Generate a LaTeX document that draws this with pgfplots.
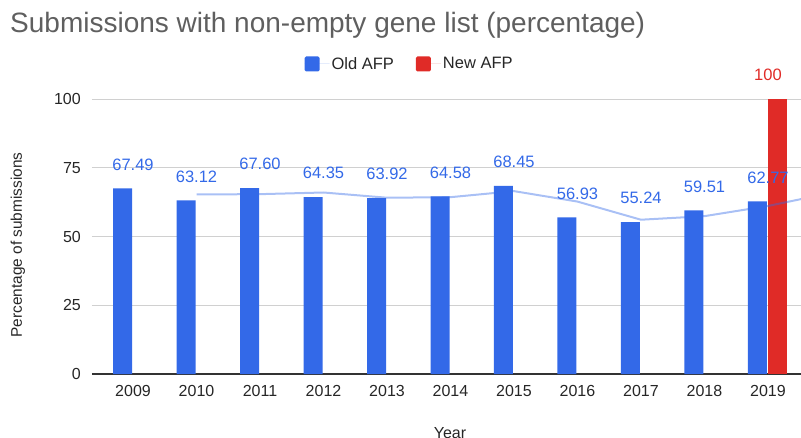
\documentclass[border=0pt]{standalone}
\usepackage{pgfplots}
\pgfplotsset{compat=1.18}
\usepackage{fontspec}
\setmainfont{Liberation Sans}
\definecolor{oldafp}{HTML}{3369E8}
\definecolor{newafp}{HTML}{E02B27}
\definecolor{titlegray}{HTML}{5F5F5F}
\definecolor{gridgray}{HTML}{D0D0D0}
\definecolor{axisgray}{HTML}{333333}
\begin{document}
\begin{tikzpicture}
\begin{axis}[
  name=ax,
  scale only axis,
  width=709pt, height=275pt,
  xmin=-0.646, xmax=10.52,
  ymin=0, ymax=100,
  clip mode=individual,
  ytick={0,25,50,75,100},
  xtick={0,1,2,3,4,5,6,7,8,9,10},
  xticklabels={2009,2010,2011,2012,2013,2014,2015,2016,2017,2018,2019},
  ymajorgrids,
  grid style={gridgray, line width=0.9pt},
  axis x line*=bottom,
  axis y line*=left,
  y axis line style={draw=none},
  x axis line style={draw=axisgray, line width=1.1pt, -},
  major tick length=0pt,
  tick style={draw=none},
  /pgf/number format/assume math mode=true,
  ticklabel style={font=\fontsize{16}{19}\selectfont, text=black!85},
  yticklabel style={anchor=east, inner sep=0pt, xshift=-11pt},
  xticklabel style={anchor=north, inner sep=0pt, yshift=-11pt},
  xlabel={Year},
  xlabel style={at={(axis description cs:0.505,0)}, anchor=north, inner sep=0pt, yshift=-53pt, font=\fontsize{16}{19}\selectfont, text=black!85},
  legend style={at={(axis description cs:0.448,1)}, anchor=center, yshift=35pt, draw=none, fill=none,
    font=\fontsize{16.5}{19}\selectfont, text=black!85,
    /tikz/every even column/.append style={column sep=20pt}},
  legend columns=2,
  legend cell align=left,
  legend image code/.code={\fill[#1, rounded corners=1.5pt] (0pt,-7.5pt) rectangle (15pt,7.5pt); \path (0pt,0pt) -- (25pt,0pt);},
]
\addlegendimage{fill=oldafp, draw=none}
\addlegendentry{Old AFP}
\addlegendimage{fill=newafp, draw=none}
\addlegendentry{New AFP}

% New AFP (drawn first so that the Old AFP labels lie on top of it)
\addplot[ybar, bar width=19pt, bar shift=9.5pt, fill=newafp, draw=none, forget plot,
  nodes near coords={\pgfmathprintnumber[fixed, precision=0]{\pgfplotspointmeta}},
  every node near coord/.append style={anchor=center, yshift=24pt, text=newafp, font=\fontsize{16.5}{19}\selectfont, inner sep=0pt}]
  coordinates {(10,100)};

% Old AFP
\addplot[ybar, bar width=19pt, bar shift=-10.5pt, fill=oldafp, draw=none, forget plot,
  nodes near coords={\pgfmathprintnumber[fixed, fixed zerofill, precision=2]{\pgfplotspointmeta}},
  every node near coord/.append style={anchor=center, yshift=24pt, text=oldafp, font=\fontsize{16.5}{19}\selectfont, inner sep=0pt}]
  coordinates {(0,67.49) (1,63.12) (2,67.60) (3,64.35) (4,63.92) (5,64.58) (6,68.45) (7,56.93) (8,55.24) (9,59.51) (10,62.77)};

% Trend line
\addplot[oldafp, opacity=0.42, line width=2pt, forget plot, mark=none]
  coordinates {(1,65.3) (2,65.4) (3,66.0) (4,64.1) (5,64.3) (6,66.5) (7,62.7) (8,56.1) (9,57.4) (10,61.1) (11,65.9)};
\end{axis}
\node[anchor=base west, inner sep=0pt, text=titlegray, font=\fontsize{28}{33}\selectfont]
  at ([xshift=-82pt,yshift=66pt]ax.north west) {Submissions with non-empty gene list (percentage)};
\node[rotate=90, inner sep=0pt, text=black!85, font=\fontsize{15.4}{18}\selectfont]
  at ([xshift=-74pt,yshift=129pt]ax.south west) {Percentage of submissions};
\pgfresetboundingbox
\path ([xshift=-92pt,yshift=-63pt]ax.south west) rectangle ([yshift=99pt]ax.north east);
\end{tikzpicture}
\end{document}
